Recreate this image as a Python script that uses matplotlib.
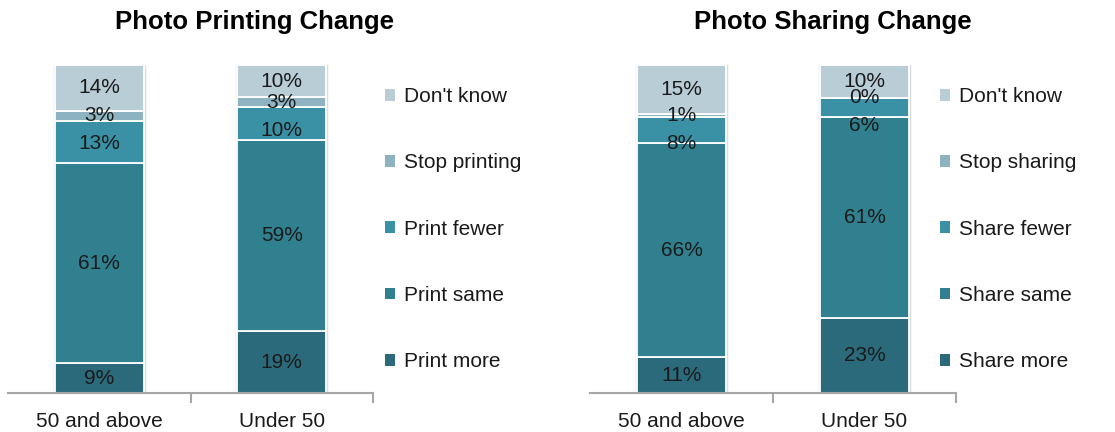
import matplotlib
matplotlib.use("Agg")
import matplotlib.pyplot as plt
from matplotlib.patches import Patch
import numpy as np

plt.rcParams['font.family'] = ['Liberation Sans', 'DejaVu Sans']

groups = ["50 and above", "Under 50"]

print_series = ["Print more", "Print same", "Print fewer", "Stop printing", "Don't know"]
print_values = {
    "Print more":    [9, 19],
    "Print same":    [61, 59],
    "Print fewer":   [13, 10],
    "Stop printing": [3, 3],
    "Don't know":    [14, 10],
}

share_series = ["Share more", "Share same", "Share fewer", "Stop sharing", "Don't know"]
share_values = {
    "Share more":   [11, 23],
    "Share same":   [66, 61],
    "Share fewer":  [8, 6],
    "Stop sharing": [1, 0],
    "Don't know":   [15, 10],
}

colors = ["#2B6A7A", "#318090", "#3A91A6", "#8DB3C1", "#B9CDD6"]
TEXT = "#1a1a1a"

W, H = 1115, 432
fig = plt.figure(figsize=(W / 100, H / 100), dpi=100)


def draw(ax_rect, series, values, title, title_x, legend_xy):
    ax = fig.add_axes(ax_rect)
    x = np.arange(len(groups))
    data = np.array([values[s] for s in series], dtype=float)
    totals = data.sum(axis=0)
    frac = data / totals
    # faint shadow outline behind each bar
    ax.bar(x, np.ones(len(groups)), 0.49, color="none", edgecolor="#DCDCDC",
           linewidth=2.5, zorder=2)
    bottoms = np.zeros(len(groups))
    centers = []
    for i, s in enumerate(series):
        ax.bar(x, frac[i], 0.49, bottom=bottoms, color=colors[i],
               edgecolor="white", linewidth=1.3, label=s, zorder=3)
        centers.append(bottoms + frac[i] / 2)
        bottoms = bottoms + frac[i]
    centers = np.array(centers)
    label_y = centers.copy()
    min_gap = 0.085
    label_y[2] = np.minimum(centers[2], centers[3] - min_gap)
    for i in range(len(series)):
        for j in range(len(groups)):
            ax.text(x[j], label_y[i, j], f"{int(data[i, j])}%", ha="center",
                    va="center", fontsize=15, color=TEXT, zorder=5)
    ax.set_xlim(-0.5, 1.5)
    ax.set_ylim(0, 1)
    for sp in ["top", "right", "left"]:
        ax.spines[sp].set_visible(False)
    ax.spines["bottom"].set_color("#A6A6A6")
    ax.spines["bottom"].set_linewidth(1.5)
    ax.spines["bottom"].set_zorder(4)
    ax.set_yticks([])
    ax.set_xticks(x)
    ax.set_xticklabels(groups, fontsize=15, color=TEXT)
    ax.tick_params(axis="x", which="major", length=0, pad=14)
    ax.set_xticks([0.5, 1.5], minor=True)
    ax.tick_params(axis="x", which="minor", length=7, width=1.5, color="#A6A6A6")
    fig.text(title_x / W, 1 - 22 / H, title, ha="center", va="center",
             fontsize=18.5, fontweight="bold", color="black")
    handles = [Patch(facecolor=colors[i], edgecolor="none") for i in range(len(series))][::-1]
    labels = series[::-1]
    fig.legend(handles, labels, loc="upper left",
               bbox_to_anchor=(legend_xy[0] / W, 1 - legend_xy[1] / H),
               frameon=False, fontsize=15, handlelength=0.5, handleheight=0.5,
               handletextpad=0.4, labelspacing=2.27, borderpad=0, borderaxespad=0,
               labelcolor=TEXT)
    return ax


bottom = (H - 393) / H
height = 328 / H
draw([8 / W, bottom, 365 / W, height], print_series, print_values,
     "Photo Printing Change", 254, (385, 87))
draw([590 / W, bottom, 366 / W, height], share_series, share_values,
     "Photo Sharing Change", 833, (940, 87))

fig.savefig("out.png", dpi=100)
